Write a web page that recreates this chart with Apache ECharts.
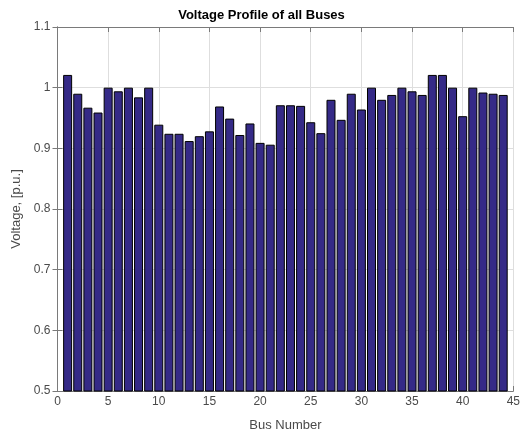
<!DOCTYPE html>
<html><head><meta charset="utf-8">
<script src="https://cdn.jsdelivr.net/npm/echarts@6/dist/echarts.min.js"></script>
<style>html,body{margin:0;padding:0;background:#fff}#c{width:523px;height:438px}</style>
</head><body><div id="c"></div>
<script>
var busNumbers = [1,2,3,4,5,6,7,8,9,10,11,12,13,14,15,16,17,18,19,20,21,22,23,24,25,26,27,28,29,30,31,32,33,34,35,36,37,38,39,40,41,42,43,44];
var voltages = [1.021,0.990,0.967,0.959,1.000,0.994,1.000,0.984,1.000,0.939,0.924,0.924,0.912,0.920,0.928,0.969,0.949,0.922,0.941,0.909,0.906,0.971,0.971,0.970,0.943,0.925,0.980,0.947,0.990,0.964,1.000,0.980,0.988,1.000,0.994,0.988,1.021,1.021,1.000,0.953,1.000,0.992,0.990,0.988];
var xTicks = [0,5,10,15,20,25,30,35,40,45];
var yTicks = [0.5,0.6,0.7,0.8,0.9,1.0,1.1];
var title = 'Voltage Profile of all Buses';
var xName = 'Bus Number';
var yName = 'Voltage, [p.u.]';

var chart = echarts.init(document.getElementById('c'));
var font = 'Liberation Sans, Arial, Helvetica, sans-serif';
var lineCol = '#7a7a7a';
var textCol = '#4a4a4a';
var data = busNumbers.map(function(b,i){return [b, voltages[i]];});
chart.setOption({
  animation:false,
  title:{text:title,left:'center',top:4,textStyle:{fontFamily:font,fontSize:13,fontWeight:'bold',color:'#000'}},
  grid:{left:57.5,right:5,top:27,bottom:47,containLabel:false},
  xAxis:[{type:'value',min:xTicks[0],max:xTicks[xTicks.length-1],interval:5,
    name:xName,nameLocation:'middle',nameGap:28,nameTextStyle:{fontFamily:font,fontSize:13,color:textCol},
    axisLine:{show:true,lineStyle:{color:lineCol,width:1}},
    axisTick:{show:true,inside:true,length:5,lineStyle:{color:lineCol}},
    axisLabel:{fontFamily:font,fontSize:12,color:textCol,margin:5},
    splitLine:{show:true,lineStyle:{color:'#dedede',width:1}}},
   {type:'value',position:'top',min:xTicks[0],max:xTicks[xTicks.length-1],interval:5,
    axisLine:{show:true,lineStyle:{color:lineCol,width:1}},
    axisTick:{show:true,inside:true,length:5,lineStyle:{color:lineCol}},
    axisLabel:{show:false},splitLine:{show:false}}],
  yAxis:[{type:'value',min:yTicks[0],max:yTicks[yTicks.length-1],interval:0.1,
    name:yName,nameLocation:'middle',nameGap:32,nameTextStyle:{fontFamily:font,fontSize:13,color:textCol},
    axisLine:{show:true,lineStyle:{color:lineCol,width:1}},
    axisTick:{show:true,inside:true,length:5,lineStyle:{color:lineCol}},
    axisLabel:{fontFamily:font,fontSize:12,color:textCol,margin:7,formatter:function(v){return String(Math.round(v*10)/10);}},
    splitLine:{show:true,lineStyle:{color:'#dedede',width:1}}},
   {type:'value',position:'right',min:yTicks[0],max:yTicks[yTicks.length-1],interval:0.1,
    axisLine:{show:true,lineStyle:{color:lineCol,width:1}},
    axisTick:{show:true,inside:true,length:5,lineStyle:{color:lineCol}},
    axisLabel:{show:false},splitLine:{show:false}}],
  series:[{type:'bar',data:data,barWidth:9,xAxisIndex:0,yAxisIndex:0,
    itemStyle:{color:'#352a87',borderColor:'#000',borderWidth:1}}]
});
</script></body></html>
